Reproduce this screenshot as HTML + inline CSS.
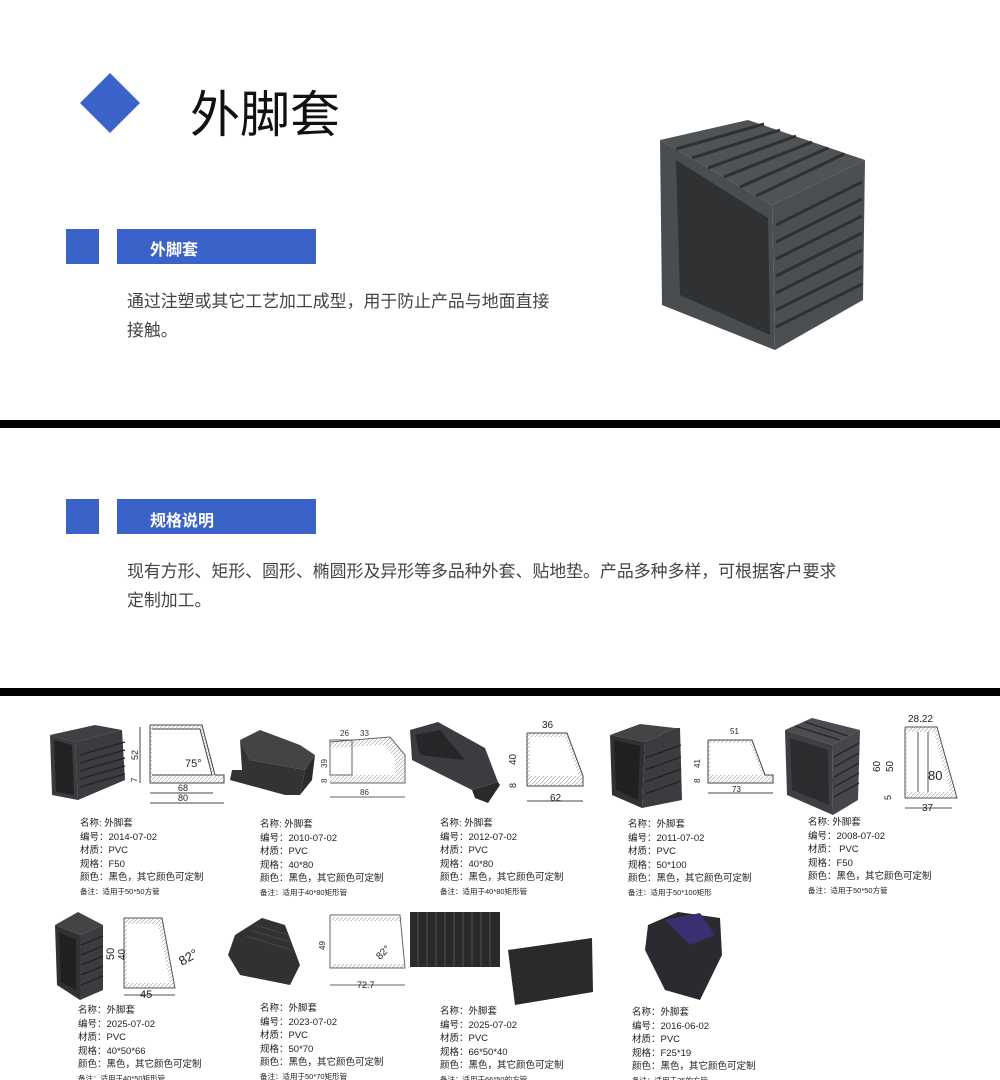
<!DOCTYPE html>
<html><head><meta charset="utf-8"><style>
body{margin:0;background:#fff;}
#p{position:relative;width:1000px;height:1080px;overflow:hidden;font-family:"Liberation Sans","Noto Sans CJK SC",sans-serif;}
.a{position:absolute;white-space:nowrap;}
.cap{position:absolute;font-size:9.5px;line-height:13.6px;color:#222;}
.cap .s{font-size:7.5px;}
</style></head><body><div id="p">
<svg class="a" style="left:0;top:0" width="1000" height="1080">
<defs><pattern id="h" width="4" height="4" patternUnits="userSpaceOnUse"><path d="M0,4 L4,0" stroke="#999" stroke-width="0.6"/></pattern></defs>
<rect x="0" y="0" width="1000" height="1080" fill="#fff"/>
<polygon points="110,73 140,103 110,133 80,103" fill="#3a62c9"/>
<rect x="66" y="229" width="33" height="35" fill="#3a62c9"/>
<rect x="117" y="229" width="199" height="35" fill="#3a62c9"/>
<rect x="66" y="499" width="33" height="35" fill="#3a62c9"/>
<rect x="117" y="499" width="199" height="35" fill="#3a62c9"/>
<rect x="0" y="420" width="1000" height="8" fill="#000"/>
<rect x="0" y="688" width="1000" height="8" fill="#000"/>
<!-- big product -->
<polygon points="660,140 748,120 865,160 772,205" fill="#505356"/>
<polygon points="660,140 772,205 775,350 662,305" fill="#4a4d50"/>
<polygon points="676,160 768,218 770,335 680,295" fill="#2f3133"/>
<polygon points="772,205 865,160 863,300 775,350" fill="#4c4f52"/>
<g stroke="#2e3032" stroke-width="3">
<line x1="776" y1="225" x2="862" y2="182"/><line x1="776" y1="242" x2="862" y2="199"/><line x1="776" y1="259" x2="862" y2="216"/><line x1="776" y1="276" x2="862" y2="233"/><line x1="776" y1="293" x2="862" y2="250"/><line x1="776" y1="310" x2="862" y2="267"/><line x1="776" y1="327" x2="862" y2="284"/>
<line x1="676" y1="149" x2="764" y2="124"/><line x1="692" y1="158" x2="780" y2="130"/><line x1="708" y1="168" x2="796" y2="136"/><line x1="724" y1="177" x2="812" y2="142"/><line x1="740" y1="187" x2="828" y2="148"/><line x1="756" y1="196" x2="844" y2="154"/>
</g>
<!-- row1 item1 -->
<polygon points="50,735 95,725 122,730 75,742" fill="#3e4043"/>
<polygon points="50,735 75,742 78,800 52,795" fill="#393b3e"/>
<polygon points="54,740 72,745 74,795 56,792" fill="#222"/>
<polygon points="75,742 122,730 125,780 78,800" fill="#3a3c3f"/>
<g stroke="#222" stroke-width="1.3"><line x1="80" y1="755" x2="125" y2="742"/><line x1="80" y1="763" x2="125" y2="750"/><line x1="80" y1="771" x2="125" y2="758"/><line x1="80" y1="779" x2="125" y2="766"/><line x1="80" y1="787" x2="125" y2="774"/></g>
<polygon points="150,725 202,725 215,775 224,775 224,783 150,783" fill="url(#h)"/>
<polygon points="152,729 200,729 212,775 152,775" fill="#fff"/>
<g fill="none" stroke="#444" stroke-width="1">
<polyline points="150,725 202,725 215,775 224,775 224,783 150,783 150,725"/><polyline points="152,729 200,729 212,775 152,775"/><line x1="150" y1="793" x2="213" y2="793"/><line x1="150" y1="803" x2="224" y2="803"/><line x1="140" y1="727" x2="140" y2="783"/>
</g>
<text x="185" y="767" font-size="11" fill="#222">75°</text><text x="178" y="791" font-size="9" fill="#222">68</text><text x="178" y="801" font-size="9" fill="#222">80</text>
<text x="138" y="760" font-size="9" fill="#222" transform="rotate(-90 138 760)">52</text><text x="137" y="782" font-size="8" fill="#222" transform="rotate(-90 137 782)">7</text>
<!-- item2 -->
<polygon points="240,740 260,730 300,745 315,755 305,770 250,760" fill="#444"/>
<polygon points="240,740 250,760 305,770 300,795 285,795 230,780 232,770 242,770" fill="#333"/>
<polygon points="305,770 315,755 312,780 300,795" fill="#2a2a2a"/>
<polygon points="330,742 390,737 405,755 405,783 330,783 330,775 395,775 395,758 385,745 330,748" fill="url(#h)"/>
<g fill="none" stroke="#666"><polyline points="330,742 390,737 405,755 405,783 330,783"/><line x1="330" y1="797" x2="405" y2="797"/><rect x="330" y="740" width="22" height="35"/></g>
<text x="340" y="736" font-size="8" fill="#333">26</text><text x="360" y="736" font-size="8" fill="#333">33</text><text x="360" y="795" font-size="8" fill="#333">86</text>
<text x="327" y="768" font-size="8" fill="#333" transform="rotate(-90 327 768)">39</text><text x="327" y="783" font-size="8" fill="#333" transform="rotate(-90 327 783)">8</text>
<!-- item3 -->
<polygon points="410,730 438,722 485,748 498,782 472,790 412,760" fill="#3a3c3f"/>
<polygon points="415,735 440,730 465,760 420,755" fill="#262628"/>
<polygon points="472,790 498,782 500,785 488,803 475,798" fill="#2a2a2a"/>
<polygon points="527,733 567,733 583,776 583,786 527,786" fill="url(#h)"/>
<polygon points="530,737 565,737 579,776 530,776" fill="#fff"/>
<g fill="none" stroke="#444"><polyline points="527,733 567,733 583,776 583,786 527,786 527,733"/><line x1="527" y1="801" x2="583" y2="801"/></g>
<text x="542" y="728" font-size="10" fill="#222">36</text><text x="550" y="801" font-size="10" fill="#222">62</text>
<text x="516" y="765" font-size="10" fill="#222" transform="rotate(-90 516 765)">40</text><text x="516" y="788" font-size="9" fill="#222" transform="rotate(-90 516 788)">8</text>
<!-- item4 -->
<polygon points="610,735 640,724 675,728 645,742" fill="#444"/>
<polygon points="610,735 645,742 642,808 612,795" fill="#2f3133"/>
<polygon points="614,740 640,746 638,800 616,790" fill="#1f2022"/>
<polygon points="645,742 675,728 680,728 682,800 642,808" fill="#3a3c3f"/>
<g stroke="#222" stroke-width="1.3"><line x1="645" y1="758" x2="681" y2="745"/><line x1="645" y1="770" x2="681" y2="757"/><line x1="645" y1="782" x2="681" y2="769"/><line x1="645" y1="794" x2="681" y2="781"/></g>
<polygon points="708,740 752,740 765,775 773,775 773,783 708,783" fill="url(#h)"/>
<polygon points="710,743 750,743 762,775 710,775" fill="#fff"/>
<g fill="none" stroke="#444"><polyline points="708,740 752,740 765,775 773,775 773,783 708,783 708,740"/><line x1="708" y1="793" x2="773" y2="793"/></g>
<text x="730" y="734" font-size="8" fill="#222">51</text><text x="732" y="792" font-size="8" fill="#222">73</text>
<text x="700" y="768" font-size="8" fill="#222" transform="rotate(-90 700 768)">41</text><text x="700" y="783" font-size="8" fill="#222" transform="rotate(-90 700 783)">8</text>
<!-- item5 -->
<polygon points="785,730 812,718 860,730 832,745" fill="#4a4c4f"/>
<polygon points="785,730 832,745 833,815 787,795" fill="#3d3f42"/>
<polygon points="790,738 828,750 829,805 792,790" fill="#2a2c2e"/>
<polygon points="832,745 860,730 858,800 833,815" fill="#45474a"/>
<g stroke="#262626" stroke-width="1.3"><line x1="834" y1="757" x2="859" y2="743"/><line x1="834" y1="767" x2="859" y2="753"/><line x1="834" y1="777" x2="859" y2="763"/><line x1="834" y1="787" x2="859" y2="773"/><line x1="834" y1="797" x2="859" y2="783"/><line x1="795" y1="726" x2="840" y2="740"/><line x1="805" y1="722" x2="848" y2="736"/></g>
<polygon points="905,727 937,727 957,798 905,798" fill="url(#h)"/>
<polygon points="907,732 934,732 950,792 907,792" fill="#fff"/>
<g fill="none" stroke="#555"><polyline points="905,727 937,727 957,798 905,798 905,727"/><line x1="905" y1="808" x2="952" y2="808"/><line x1="918" y1="732" x2="918" y2="792"/><line x1="928" y1="732" x2="928" y2="792"/></g>
<text x="908" y="722" font-size="10" fill="#222">28.22</text><text x="922" y="811" font-size="10" fill="#222">37</text><text x="928" y="780" font-size="13" fill="#222">80</text>
<text x="880" y="772" font-size="10" fill="#222" transform="rotate(-90 880 772)">60</text><text x="893" y="772" font-size="10" fill="#222" transform="rotate(-90 893 772)">50</text><text x="891" y="800" font-size="9" fill="#222" transform="rotate(-90 891 800)">5</text>
<!-- row2 item1 -->
<polygon points="55,925 78,912 103,925 80,935" fill="#444"/>
<polygon points="55,925 80,935 80,1000 57,985" fill="#2f3133"/>
<polygon points="59,932 76,940 76,990 61,982" fill="#1f2022"/>
<polygon points="80,935 103,925 103,990 80,1000" fill="#3a3c3f"/>
<g stroke="#222" stroke-width="1.3"><line x1="81" y1="945" x2="103" y2="936"/><line x1="81" y1="955" x2="103" y2="946"/><line x1="81" y1="965" x2="103" y2="956"/><line x1="81" y1="975" x2="103" y2="966"/><line x1="81" y1="985" x2="103" y2="976"/></g>
<polygon points="124,918 162,918 175,988 124,988" fill="url(#h)"/>
<polygon points="127,924 158,924 170,983 127,983" fill="#fff"/>
<g fill="none" stroke="#555"><polyline points="124,918 162,918 175,988 124,988 124,918"/><line x1="124" y1="995" x2="175" y2="995"/></g>
<text x="182" y="966" font-size="13" fill="#222" transform="rotate(-30 182 966)">82°</text><text x="140" y="998" font-size="11" fill="#222">45</text>
<text x="114" y="960" font-size="11" fill="#222" transform="rotate(-90 114 960)">50</text><text x="125" y="960" font-size="10" fill="#222" transform="rotate(-90 125 960)">40</text>
<!-- row2 item2 -->
<polygon points="235,935 262,918 285,925 300,965 290,985 240,975 228,955" fill="#2f3133"/>
<g stroke="#444" stroke-width="1"><line x1="255" y1="925" x2="288" y2="935"/><line x1="250" y1="930" x2="290" y2="942"/><line x1="246" y1="936" x2="292" y2="950"/></g>
<rect x="332" y="917" width="70" height="4" fill="url(#h)"/><rect x="332" y="964" width="72" height="4" fill="url(#h)"/>
<g fill="none" stroke="#666"><polyline points="330,915 400,915 405,968 330,968 330,915"/><line x1="330" y1="985" x2="405" y2="985"/></g>
<text x="357" y="988" font-size="9" fill="#222">72.7</text><text x="380" y="960" font-size="10" fill="#222" transform="rotate(-45 380 960)">82°</text>
<text x="325" y="950" font-size="8" fill="#222" transform="rotate(-90 325 950)">49</text>
<!-- row2 item3 -->
<rect x="410" y="912" width="90" height="55" fill="#2a2a2c"/>
<g stroke="#444" stroke-width="1.5"><line x1="418" y1="912" x2="418" y2="967"/><line x1="427" y1="912" x2="427" y2="967"/><line x1="436" y1="912" x2="436" y2="967"/><line x1="445" y1="912" x2="445" y2="967"/><line x1="454" y1="912" x2="454" y2="967"/><line x1="463" y1="912" x2="463" y2="967"/><line x1="472" y1="912" x2="472" y2="967"/><line x1="481" y1="912" x2="481" y2="967"/><line x1="490" y1="912" x2="490" y2="967"/></g>
<polygon points="508,950 592,938 593,992 515,1005" fill="#2a2a2c"/>
<!-- row2 item4 -->
<polygon points="648,925 678,912 720,918 722,955 700,1000 665,990 645,950" fill="#2a2a30"/>
<polygon points="665,920 700,913 715,935 690,945" fill="#3a2f70"/>
</svg>
<div class="a" style="left:190px;top:75px;font-size:50px;color:#111;">外脚套</div>
<div class="a" style="left:150px;top:236px;font-size:16px;font-weight:bold;color:#fff;">外脚套</div>
<div class="a" style="left:150px;top:507px;font-size:16px;font-weight:bold;color:#fff;">规格说明</div>
<div class="a" style="left:127px;top:287px;font-size:16.9px;line-height:29px;color:#444;">通过注塑或其它工艺加工成型，用于防止产品与地面直接<br>接触。</div>
<div class="a" style="left:127px;top:557px;font-size:16.9px;line-height:29px;color:#444;">现有方形、矩形、圆形、椭圆形及异形等多品种外套、贴地垫。产品多种多样，可根据客户要求<br>定制加工。</div>
<div class="cap" style="left:80px;top:817px">名称: 外脚套<br>编号：2014-07-02<br>材质：PVC<br>规格：F50<br>颜色：黑色，其它颜色可定制<br><span class="s">备注：适用于50*50方管</span></div>
<div class="cap" style="left:260px;top:818px">名称: 外脚套<br>编号：2010-07-02<br>材质：PVC<br>规格：40*80<br>颜色：黑色，其它颜色可定制<br><span class="s">备注：适用于40*80矩形管</span></div>
<div class="cap" style="left:440px;top:817px">名称: 外脚套<br>编号：2012-07-02<br>材质：PVC<br>规格：40*80<br>颜色：黑色，其它颜色可定制<br><span class="s">备注：适用于40*80矩形管</span></div>
<div class="cap" style="left:628px;top:818px">名称：外脚套<br>编号：2011-07-02<br>材质：PVC<br>规格：50*100<br>颜色：黑色，其它颜色可定制<br><span class="s">备注：适用于50*100矩形</span></div>
<div class="cap" style="left:808px;top:816px">名称: 外脚套<br>编号：2008-07-02<br>材质： PVC<br>规格：F50<br>颜色：黑色，其它颜色可定制<br><span class="s">备注：适用于50*50方管</span></div>
<div class="cap" style="left:78px;top:1004px">名称：外脚套<br>编号：2025-07-02<br>材质：PVC<br>规格：40*50*66<br>颜色：黑色，其它颜色可定制<br><span class="s">备注：适用于40*50矩形管</span></div>
<div class="cap" style="left:260px;top:1002px">名称：外脚套<br>编号：2023-07-02<br>材质：PVC<br>规格：50*70<br>颜色：黑色，其它颜色可定制<br><span class="s">备注：适用于50*70矩形管</span></div>
<div class="cap" style="left:440px;top:1005px">名称：外脚套<br>编号：2025-07-02<br>材质：PVC<br>规格：66*50*40<br>颜色：黑色，其它颜色可定制<br><span class="s">备注：适用于66*50的方管</span></div>
<div class="cap" style="left:632px;top:1006px">名称：外脚套<br>编号：2016-06-02<br>材质：PVC<br>规格：F25*19<br>颜色：黑色，其它颜色可定制<br><span class="s">备注：适用于25的方管</span></div>
</div></body></html>
